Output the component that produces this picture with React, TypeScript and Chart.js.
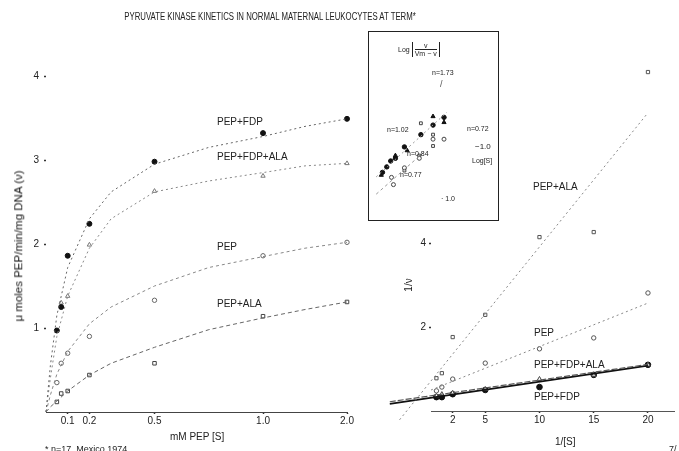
import React, { useEffect, useRef } from 'react';
import { Chart, LinearScale, registerables } from 'chart.js';

Chart.register(...registerables);

// ---------- Michaelis-Menten panel (v vs [S]) ----------
const S_MM = [0.05, 0.07, 0.1, 0.2, 0.5, 1.0, 2.0];
const V_PEP_FDP = [0.97, 1.25, 1.86, 2.24, 2.98, 3.32, 3.49];
const S_FDP_ALA = [0.07, 0.1, 0.2, 0.5, 1.0, 2.0];
const V_PEP_FDP_ALA = [1.3, 1.38, 1.99, 2.63, 2.81, 2.96];
const V_PEP = [0.35, 0.58, 0.7, 0.9, 1.33, 1.86, 2.02];
const V_PEP_ALA = [0.12, 0.22, 0.25, 0.44, 0.58, 1.14, 1.31];

const CURVE_S = [0, 0.02, 0.05, 0.1, 0.2, 0.3, 0.5, 0.75, 1.0, 1.5, 2.0];
const CURVE_PEP_FDP = [0, 0.55, 1.15, 1.72, 2.3, 2.62, 2.95, 3.15, 3.28, 3.4, 3.49];
const CURVE_PEP_FDP_ALA = [0, 0.4, 0.9, 1.38, 1.95, 2.3, 2.62, 2.75, 2.85, 2.93, 2.96];
const CURVE_PEP = [0, 0.2, 0.45, 0.72, 1.05, 1.25, 1.5, 1.72, 1.85, 1.95, 2.02];
const CURVE_PEP_ALA = [0, 0.06, 0.13, 0.25, 0.44, 0.58, 0.77, 0.98, 1.12, 1.22, 1.31];

const LEFT_X_TICKS = [0.1, 0.2, 0.5, 1.0, 2.0];
const LEFT_X_LABELS = ['0.1', '0.2', '0.5', '1.0', '2.0'];
const LEFT_Y_TICKS = [1, 2, 3, 4];
const LEFT_Y_LABELS = ['1', '2', '3', '4'];

// ---------- Lineweaver-Burk panel (1/v vs 1/[S]) ----------
const INV_S = [0.5, 1, 2, 5, 10, 15, 20];
const INV_V_PEP = [0.48, 0.57, 0.76, 1.14, 1.48, 1.74, 2.81];
const INV_V_PEP_ALA = [0.78, 0.9, 1.76, 2.29, 4.14, 4.26, 8.07];
const INV_V_PEP_FDP = [0.33, 0.33, 0.4, 0.5, 0.57, 0.86, 1.1];
const INV_V_PEP_FDP_ALA = [0.36, 0.4, 0.43, 0.52, 0.76, 0.86, 1.1];

const FIT_X_PEP_FDP = [-3.8, 20];
const FIT_Y_PEP_FDP = [0.17, 1.08];
const FIT_X_PEP_FDP_ALA = [-3.8, 20];
const FIT_Y_PEP_FDP_ALA = [0.22, 1.11];
const FIT_X_PEP = [0, 20];
const FIT_Y_PEP = [0.5, 2.57];
const FIT_X_PEP_ALA = [-2.9, 20];
const FIT_Y_PEP_ALA = [-0.21, 7.1];

const RIGHT_X_TICKS = [2, 5, 10, 15, 20];
const RIGHT_X_LABELS = ['2', '5', '10', '15', '20'];
const RIGHT_Y_TICKS = [2, 4, 6, 8];
const RIGHT_Y_LABELS = ['2', '4', '6', '8'];

// ---------- Hill plot inset (log v/(Vm-v) vs log[S]) ----------
const LOG_S_FDP = [-1.29, -1.18, -1.08, -0.96, -0.73, -0.31, 0, 0.28];
const HILL_FDP = [-0.52, -0.4, -0.27, -0.21, 0.04, 0.31, 0.52, 0.69];
const LOG_S_FDP_ALA = [-1.32, -0.96, -0.66, 0, 0.28];
const HILL_FDP_ALA = [-0.58, -0.15, -0.04, 0.71, 0.58];
const LOG_S_PEP = [-1.06, -1.01, -0.73, -0.35, 0, 0.28];
const HILL_PEP = [-0.63, -0.79, -0.42, -0.21, 0.21, 0.21];
const LOG_S_PEP_ALA = [-0.73, -0.35, -0.31, 0, 0];
const HILL_PEP_ALA = [-0.48, -0.15, 0.56, 0.31, 0.06];
const HILL_FIT_X1 = [-1.45, 0.35];
const HILL_FIT_Y1 = [-0.62, 0.8];
const HILL_FIT_X2 = [-1.45, -0.2];
const HILL_FIT_Y2 = [-1.0, -0.05];

const FONT = "'Liberation Sans', Arial, sans-serif";
Chart.defaults.font.family = FONT;
Chart.defaults.color = '#222';

// broken x axis: linear up to 1.0, compressed beyond
const BREAK_AT = 1.0;
const COMPRESS = 0.387;
const warp = (v: number) => (v <= BREAK_AT ? v : BREAK_AT + (v - BREAK_AT) * COMPRESS);
const unwarp = (w: number) => (w <= BREAK_AT ? w : BREAK_AT + (w - BREAK_AT) / COMPRESS);

class BrokenScale extends LinearScale {
  static id = 'broken';
  static defaults = LinearScale.defaults;
  getPixelForValue(value: number) {
    const a = warp(this.min), b = warp(this.max);
    return this.getPixelForDecimal((warp(value) - a) / (b - a));
  }
  getValueForPixel(pixel: number) {
    const a = warp(this.min), b = warp(this.max);
    return unwarp(a + this.getDecimalForPixel(pixel) * (b - a));
  }
}
Chart.register(BrokenScale as any);

const xy = (xs: number[], ys: number[]) => xs.map((x, i) => ({ x, y: ys[i] }));

const curve = (xs: number[], ys: number[], dash: number[] = [2, 3], color = '#777', width = 1) => ({
  data: xy(xs, ys),
  showLine: true,
  pointRadius: 0,
  borderColor: color,
  borderWidth: width,
  borderDash: dash,
  clip: false as any,
  tension: 0,
});

const pts = (xs: number[], ys: number[], style: string, fill: string, stroke: string, r = 2.5) => ({
  data: xy(xs, ys),
  showLine: false,
  pointStyle: style,
  pointRadius: r,
  pointBackgroundColor: fill,
  pointBorderColor: stroke,
  pointBorderWidth: 1,
  clip: false as any,
});

const tickFont = { family: FONT, size: 10 };

const common = {
  responsive: false,
  animation: false,
  events: [],
  plugins: { legend: { display: false }, tooltip: { enabled: false } },
};

function buildLeft(): any {
  return {
    type: 'scatter',
    data: {
      datasets: [
        curve(CURVE_S, CURVE_PEP_FDP, [2, 3], '#666'),
        curve(CURVE_S, CURVE_PEP_FDP_ALA, [2, 3], '#888'),
        curve(CURVE_S, CURVE_PEP, [3, 3], '#888'),
        curve(CURVE_S, CURVE_PEP_ALA, [4, 3], '#666'),
        pts(S_MM, V_PEP_FDP, 'circle', '#111', '#111', 2.5),
        pts(S_FDP_ALA, V_PEP_FDP_ALA, 'triangle', '#fff', '#777', 2.5),
        pts(S_MM, V_PEP, 'circle', '#fff', '#666', 2.2),
        pts(S_MM, V_PEP_ALA, 'rect', '#fff', '#444', 2.5),
      ],
    },
    options: {
      ...common,
      layout: { padding: { left: 0, right: 13, top: 42.4, bottom: 11 } },
      scales: {
        x: {
          type: 'broken',
          min: 0,
          max: 2.0,
          afterFit: (s: any) => { s.height = 28; },
          afterBuildTicks: (s: any) => { s.ticks = LEFT_X_TICKS.map((v) => ({ value: v })); },
          ticks: { callback: (_v: any, i: number) => LEFT_X_LABELS[i], autoSkip: false, maxRotation: 0, padding: 1, font: tickFont, color: '#222' },
          grid: { drawOnChartArea: false, drawTicks: true, tickLength: 2, tickWidth: 1.5, color: '#333' },
          border: { display: true, color: '#444', width: 1 },
        },
        y: {
          type: 'linear',
          min: 0,
          max: 4.4,
          afterFit: (s: any) => { s.width = 46; },
          afterBuildTicks: (s: any) => { s.ticks = LEFT_Y_TICKS.map((v) => ({ value: v })); },
          ticks: { callback: (_v: any, i: number) => LEFT_Y_LABELS[i], autoSkip: false, padding: 5, font: tickFont, color: '#222' },
          grid: { drawOnChartArea: false, drawTicks: true, tickLength: 2, tickWidth: 1.5, color: '#333' },
          border: { display: false },
        },
      },
    },
  };
}

function buildRight(): any {
  return {
    type: 'scatter',
    data: {
      datasets: [
        curve(FIT_X_PEP_ALA, FIT_Y_PEP_ALA, [2, 3], '#888'),
        curve(FIT_X_PEP, FIT_Y_PEP, [2, 3], '#888'),
        curve(FIT_X_PEP_FDP_ALA, FIT_Y_PEP_FDP_ALA, [6, 2], '#555', 1.2),
        curve(FIT_X_PEP_FDP, FIT_Y_PEP_FDP, [], '#111', 1.6),
        pts(INV_S, INV_V_PEP, 'circle', '#fff', '#555', 2.2),
        pts(INV_S, INV_V_PEP_ALA, 'rect', '#fff', '#555', 2.3),
        pts(INV_S, INV_V_PEP_FDP_ALA, 'triangle', '#fff', '#444', 2.6),
        pts(INV_S, INV_V_PEP_FDP, 'circle', '#111', '#111', 2.8),
      ],
    },
    options: {
      ...common,
      layout: { padding: { left: 0, right: 0, top: 58.2, bottom: 12 } },
      scales: {
        x: {
          type: 'linear',
          min: 0,
          max: 22.4,
          afterFit: (s: any) => { s.height = 28; },
          afterBuildTicks: (s: any) => { s.ticks = RIGHT_X_TICKS.map((v) => ({ value: v })); },
          ticks: { callback: (_v: any, i: number) => RIGHT_X_LABELS[i], autoSkip: false, maxRotation: 0, padding: 1, font: tickFont, color: '#222' },
          grid: { drawOnChartArea: false, drawTicks: true, tickLength: 2, tickWidth: 1.5, color: '#333' },
          border: { display: true, color: '#555', width: 1 },
        },
        y: {
          type: 'linear',
          min: 0,
          max: 8.4,
          afterFit: (s: any) => { s.width = 71; },
          afterBuildTicks: (s: any) => { s.ticks = RIGHT_Y_TICKS.map((v) => ({ value: v })); },
          ticks: { callback: (_v: any, i: number) => RIGHT_Y_LABELS[i], autoSkip: false, padding: 3, font: tickFont, color: '#222' },
          grid: { drawOnChartArea: false, drawTicks: true, tickLength: 2, tickWidth: 1.5, color: '#333' },
          border: { display: false },
        },
      },
    },
  };
}

function buildInset(): any {
  return {
    type: 'scatter',
    data: {
      datasets: [
        curve(HILL_FIT_X1, HILL_FIT_Y1, [2, 3], '#999'),
        curve(HILL_FIT_X2, HILL_FIT_Y2, [3, 3], '#999'),
        pts(LOG_S_PEP, HILL_PEP, 'circle', '#fff', '#444', 2),
        pts(LOG_S_PEP_ALA, HILL_PEP_ALA, 'rect', '#fff', '#444', 2),
        pts(LOG_S_FDP_ALA, HILL_FDP_ALA, 'triangle', '#111', '#111', 2.4),
        pts(LOG_S_FDP, HILL_FDP, 'circle', '#111', '#111', 2.2),
      ],
    },
    options: {
      ...common,
      layout: { padding: 0 },
      scales: {
        x: { type: 'linear', display: false, min: -1.506, max: 1.53 },
        y: { type: 'linear', display: false, min: -1.458, max: 2.458 },
      },
    },
  };
}

function ChartCanvas({ build, left, top, width, height }: { build: () => any; left: number; top: number; width: number; height: number }) {
  const ref = useRef<HTMLCanvasElement | null>(null);
  useEffect(() => {
    if (!ref.current) return;
    const chart = new Chart(ref.current, build());
    return () => chart.destroy();
  }, [build]);
  return (
    <canvas
      ref={ref}
      width={width}
      height={height}
      style={{ position: 'absolute', left, top, width, height, display: 'block' }}
    />
  );
}

function T({ x, y, children, size = 10, rotate = false, center = false, style = {} }: any) {
  const tf = rotate
    ? 'translate(-50%,-50%) rotate(-90deg)'
    : center
    ? 'translate(-50%,-50%)'
    : 'translateY(-50%)';
  return (
    <div
      style={{
        position: 'absolute',
        left: x,
        top: y,
        transform: tf,
        fontSize: size,
        lineHeight: 1,
        whiteSpace: 'nowrap',
        color: '#222',
        ...style,
      }}
    >
      {children}
    </div>
  );
}

export default function App() {
  return (
    <div
      style={{
        position: 'absolute',
        left: 0,
        top: 0,
        width: 679,
        height: 451,
        overflow: 'hidden',
        background: '#fff',
        fontFamily: FONT,
      }}
    >
      <ChartCanvas build={buildLeft} left={0} top={0} width={360} height={451} />
      <ChartCanvas build={buildRight} left={360} top={0} width={319} height={451} />
      <div
        style={{
          position: 'absolute',
          left: 368,
          top: 31,
          width: 129,
          height: 188,
          border: '1.5px solid #222',
          background: '#fff',
        }}
      >
        <ChartCanvas build={buildInset} left={0} top={0} width={129} height={188} />
      </div>

      {/* title */}
      <T x={270} y={17} center style={{ transform: 'translate(-50%,-50%) scaleX(0.78)' }}>
        PYRUVATE KINASE KINETICS IN NORMAL MATERNAL LEUKOCYTES AT TERM*
      </T>

      {/* left panel annotations */}
      <T x={217} y={122}>PEP+FDP</T>
      <T x={217} y={157}>PEP+FDP+ALA</T>
      <T x={217} y={247}>PEP</T>
      <T x={217} y={304}>PEP+ALA</T>
      <T x={19} y={246} size={11.5} rotate style={{ color: '#111' }}>μ moles PEP/min/mg DNA (ν)</T>
      <T x={170} y={437}>mM PEP [S]</T>
      <T x={45} y={449} size={9}>* n=17, Mexico 1974</T>

      {/* right panel annotations */}
      <T x={534} y={333}>PEP</T>
      <T x={534} y={365}>PEP+FDP+ALA</T>
      <T x={534} y={397}>PEP+FDP</T>
      <T x={533} y={187}>PEP+ALA</T>
      <T x={409} y={285} rotate>1/ν</T>
      <T x={555} y={442}>1/[S]</T>
      <T x={669} y={449} size={9}>7/</T>

      {/* inset annotations */}
      <div style={{ position: 'absolute', left: 398, top: 42, fontSize: 7, lineHeight: 1, color: '#222', display: 'flex', alignItems: 'center' }}>
        <span style={{ marginRight: 2 }}>Log</span>
        <span style={{ display: 'inline-block', borderLeft: '1px solid #222', borderRight: '1px solid #222', padding: '0 2px', textAlign: 'center' }}>
          <span style={{ display: 'block' }}>v</span>
          <span style={{ display: 'block', borderTop: '1px solid #222' }}>Vm − v</span>
        </span>
      </div>
      <T x={432} y={72} size={7}>n=1.73</T>
      <T x={440} y={84} size={9} style={{ color: '#555' }}>/</T>
      <T x={387} y={129} size={7}>n=1.02</T>
      <T x={407} y={153} size={7}>n=0.84</T>
      <T x={467} y={128} size={7}>n=0.72</T>
      <T x={475} y={147} size={8}>−1.0</T>
      <T x={472} y={160} size={7}>Log[S]</T>
      <T x={400} y={174} size={7}>n=0.77</T>
      <T x={441} y={198} size={7}>· 1.0</T>
    </div>
  );
}
